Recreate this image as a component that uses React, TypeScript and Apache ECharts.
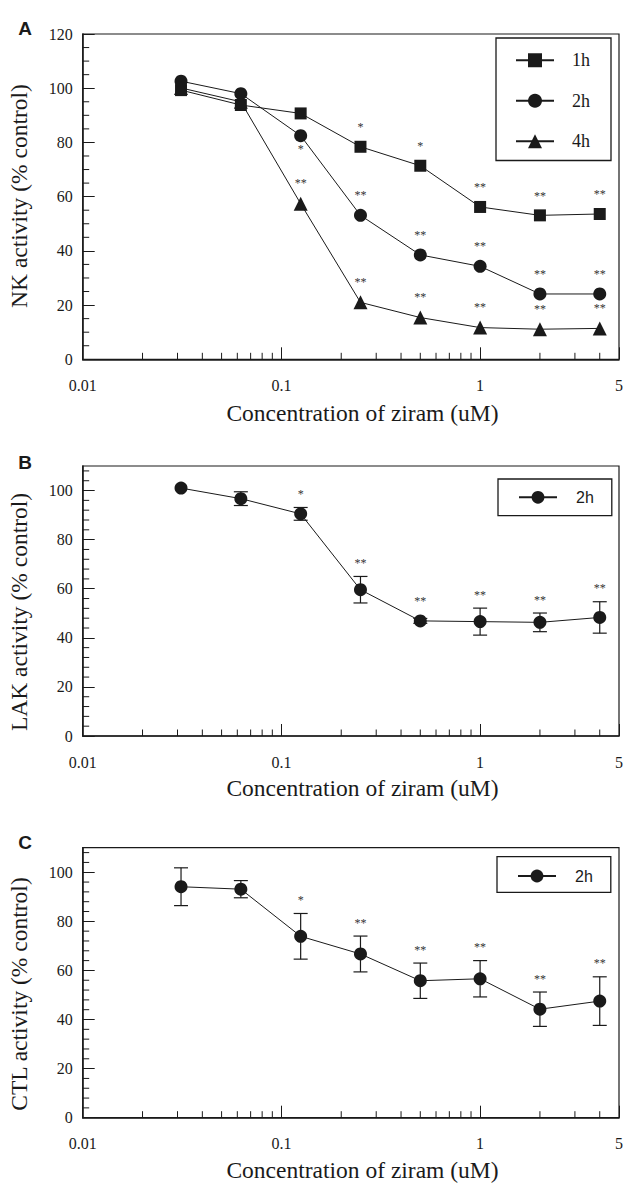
import React, { useEffect, useRef } from "react";
import * as echarts from "echarts";

// ---- data ----
const doses = [0.03125, 0.0625, 0.125, 0.25, 0.5, 1, 2, 4];

const nk1h = [99.3, 93.8, 90.7, 78.4, 71.4, 56.2, 53.1, 53.6];
const nk2h = [102.6, 98.0, 82.5, 53.1, 38.5, 34.3, 24.1, 24.1];
const nk4h = [100.1, 95.0, 57.4, 21.0, 15.4, 11.7, 11.1, 11.4];
const nkSig1h = ["", "", "", "*", "*", "**", "**", "**"];
const nkSig2h = ["", "", "*", "**", "**", "**", "**", "**"];
const nkSig2hBelow = [false, false, true, false, false, false, false, false];
const nkSig4h = ["", "", "**", "**", "**", "**", "**", "**"];

const lak2h = [101.0, 96.7, 90.5, 59.6, 46.9, 46.6, 46.3, 48.3];
const lakErr = [0, 2.8, 2.6, 5.4, 1.0, 5.5, 3.8, 6.4];
const lakSig = ["", "", "*", "**", "**", "**", "**", "**"];

const ctl2h = [94.1, 93.1, 73.9, 66.7, 55.8, 56.6, 44.2, 47.5];
const ctlErr = [7.7, 3.5, 9.3, 7.3, 7.2, 7.4, 7.0, 9.9];
const ctlSig = ["", "", "*", "**", "**", "**", "**", "**"];

const xMinorTicks = [
  0.02, 0.03, 0.04, 0.05, 0.06, 0.07, 0.08, 0.09,
  0.2, 0.3, 0.4, 0.5, 0.6, 0.7, 0.8, 0.9,
  2, 3, 4,
];

const panelLetters = ["A", "B", "C"];
const yTitles = ["NK activity (% control)", "LAK activity (% control)", "CTL activity (% control)"];
const xTitle = "Concentration of ziram (uM)";

// ---- style ----
const SERIF = "Liberation Serif";
const SANS = "Liberation Sans";
const INK = "#1a1a1a";

const GL = 82.7;
const GW = 539.8;
const grids = [
  { top: 34, height: 325.3, ymax: 120, minorStep: 5 },
  { top: 466, height: 270, ymax: 110, minorStep: 4 },
  { top: 847.7, height: 270, ymax: 110, minorStep: 4 },
];

function yMinorList(step: number, max: number) {
  const out: number[] = [];
  for (let v = step; v < max; v += step) if (v % 20 !== 0) out.push(v);
  return out;
}

function tickSeries(gi: number) {
  const g = grids[gi];
  const data = [
    ...xMinorTicks.map((v) => [v, 0, 0]),
    ...yMinorList(g.minorStep, g.ymax).map((v) => [0.01, v, 1]),
  ];
  return {
    type: "custom",
    xAxisIndex: gi,
    yAxisIndex: gi,
    silent: true,
    z: 3,
    data,
    renderItem: (params: any, api: any) => {
      const p = api.coord([api.value(0), api.value(1)]);
      const kind = api.value(2);
      const len = 6.5;
      const shape =
        kind === 0
          ? { x1: p[0], y1: p[1], x2: p[0], y2: p[1] - len }
          : { x1: p[0], y1: p[1], x2: p[0] + len, y2: p[1] };
      return { type: "line", shape, style: { stroke: INK, lineWidth: 1 } };
    },
  };
}

function annotationSeries(
  gi: number,
  vals: number[],
  errs: number[] | null,
  sig: string[],
  below: boolean[] | null,
  half: number
) {
  return {
    type: "custom",
    xAxisIndex: gi,
    yAxisIndex: gi,
    silent: true,
    z: 4,
    data: doses.map((d, i) => [d, vals[i], errs ? errs[i] : 0]),
    renderItem: (params: any, api: any) => {
      const i = params.dataIndex;
      const x = api.value(0);
      const y = api.value(1);
      const e = api.value(2);
      const c = api.coord([x, y]);
      const children: any[] = [];
      let top = c[1] - half;
      if (e > 0) {
        const hi = api.coord([x, y + e]);
        const lo = api.coord([x, y - e]);
        const st = { stroke: INK, lineWidth: 1.2 };
        children.push({ type: "line", shape: { x1: c[0], y1: hi[1], x2: c[0], y2: lo[1] }, style: st });
        children.push({ type: "line", shape: { x1: c[0] - 7, y1: hi[1], x2: c[0] + 7, y2: hi[1] }, style: st });
        children.push({ type: "line", shape: { x1: c[0] - 7, y1: lo[1], x2: c[0] + 7, y2: lo[1] }, style: st });
        top = Math.min(top, hi[1]);
      }
      const s = sig[i];
      if (s) {
        const ty = below && below[i] ? c[1] + half + 7 : top - 13.5;
        children.push({
          type: "text",
          style: {
            text: s,
            x: c[0],
            y: ty,
            align: "center",
            verticalAlign: "middle",
            fontSize: 12,
            fontFamily: SERIF,
            fill: "#333333",
          },
        });
      }
      return { type: "group", children };
    },
  };
}

function lineSeries(gi: number, name: string, vals: number[], symbol: string, size: number) {
  return {
    type: "line",
    name,
    xAxisIndex: gi,
    yAxisIndex: gi,
    data: doses.map((d, i) => [d, vals[i]]),
    symbol,
    symbolSize: size,
    showSymbol: true,
    lineStyle: { color: INK, width: 1 },
    itemStyle: { color: INK },
    z: 3,
  };
}

export default function App() {
  const ref = useRef<HTMLDivElement>(null);

  useEffect(() => {
    document.body.style.margin = "0";
    if (!ref.current) return;
    const chart = echarts.init(ref.current, undefined, { renderer: "svg" });

    const serifText = { fontFamily: SERIF, fontSize: 16, color: INK };

    const option: any = {
      animation: false,
      backgroundColor: "#ffffff",
      textStyle: { fontFamily: SERIF, color: INK },
      grid: grids.map((g) => ({
        left: GL,
        top: g.top,
        width: GW,
        height: g.height,
        show: true,
        borderColor: INK,
        borderWidth: 1.2,
        backgroundColor: "transparent",
      })),
      xAxis: grids.map((g, gi) => ({
        type: "log",
        logBase: 10,
        gridIndex: gi,
        min: 0.01,
        max: 5,
        axisLine: { show: true, lineStyle: { color: INK, width: 1.5 } },
        axisTick: { show: true, inside: true, length: 12, lineStyle: { color: INK, width: 1 } },
        axisLabel: {
          ...serifText,
          margin: 18,
          showMinLabel: true,
          showMaxLabel: true,
        },
        splitLine: { show: false },
        minorTick: { show: false },
        minorSplitLine: { show: false },
      })),
      yAxis: grids.map((g, gi) => ({
        type: "value",
        gridIndex: gi,
        min: 0,
        max: g.ymax,
        interval: 20,
        axisLine: { show: true, lineStyle: { color: INK, width: 1.5 } },
        axisTick: { show: true, inside: true, length: 12, lineStyle: { color: INK, width: 1 } },
        axisLabel: {
          ...serifText,
          margin: 10,
          showMaxLabel: g.ymax % 20 === 0,
        },
        splitLine: { show: false },
      })),
      legend: [
        {
          data: ["1h", "2h", "4h"],
          orient: "vertical",
          left: 496,
          top: 38,
          itemWidth: 38,
          itemHeight: 17.5,
          itemGap: 22.5,
          padding: [13.25, 21, 10.25, 19],
          borderColor: INK,
          borderWidth: 1.3,
          selectedMode: false,
          textStyle: { fontFamily: SERIF, fontSize: 18, color: INK, padding: [0, 0, 0, 13] },
        },
        {
          data: ["2h"],
          orient: "vertical",
          left: 498,
          top: 479,
          itemWidth: 38,
          itemHeight: 16,
          itemGap: 10,
          padding: [10.3, 18, 10.4, 20],
          borderColor: INK,
          borderWidth: 1.3,
          selectedMode: false,
          textStyle: { fontFamily: SANS, fontSize: 16, color: INK, padding: [0, 0, 0, 14] },
        },
        {
          data: ["2h"],
          orient: "vertical",
          left: 497,
          top: 856.7,
          itemWidth: 38,
          itemHeight: 16,
          itemGap: 10,
          padding: [11.3, 18, 8.3, 20],
          borderColor: INK,
          borderWidth: 1.3,
          selectedMode: false,
          textStyle: { fontFamily: SANS, fontSize: 16, color: INK, padding: [0, 0, 0, 14] },
        },
      ],
      graphic: [
        ...panelLetters.map((t, i) => ({
          type: "text",
          x: 25,
          y: [28, 462, 842][i],
          style: {
            text: t,
            align: "center",
            verticalAlign: "middle",
            fontSize: 19,
            fontWeight: "bold",
            fontFamily: SANS,
            fill: INK,
          },
        })),
        ...yTitles.map((t, i) => ({
          type: "text",
          x: 19,
          y: [196, 612, 994][i],
          rotation: Math.PI / 2,
          style: {
            text: t,
            align: "center",
            verticalAlign: "middle",
            fontSize: 23.5,
            fontFamily: SERIF,
            fill: INK,
          },
        })),
        ...[413, 788, 1170].map((y) => ({
          type: "text",
          x: 362.5,
          y,
          style: {
            text: xTitle,
            align: "center",
            verticalAlign: "middle",
            fontSize: 23.5,
            fontFamily: SERIF,
            fill: INK,
          },
        })),
      ],
      series: [
        lineSeries(0, "1h", nk1h, "rect", 12),
        lineSeries(0, "2h", nk2h, "circle", 13),
        lineSeries(0, "4h", nk4h, "triangle", 14),
        annotationSeries(0, nk1h, null, nkSig1h, null, 6),
        annotationSeries(0, nk2h, null, nkSig2h, nkSig2hBelow, 6.5),
        annotationSeries(0, nk4h, null, nkSig4h, null, 7),
        lineSeries(1, "2h", lak2h, "circle", 13),
        annotationSeries(1, lak2h, lakErr, lakSig, null, 6.5),
        lineSeries(2, "2h", ctl2h, "circle", 13),
        annotationSeries(2, ctl2h, ctlErr, ctlSig, null, 6.5),
        tickSeries(0),
        tickSeries(1),
        tickSeries(2),
      ],
    };

    chart.setOption(option);
    return () => {
      chart.dispose();
    };
  }, []);

  return <div ref={ref} style={{ width: 626, height: 1183 }} />;
}
